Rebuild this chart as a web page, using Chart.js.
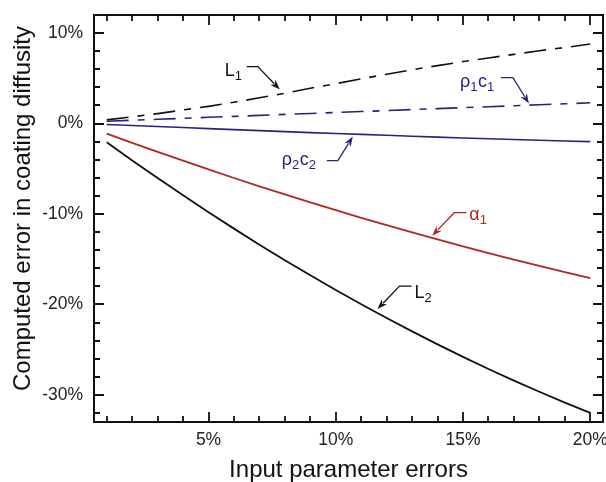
<!DOCTYPE html>
<html><head><meta charset="utf-8">
<script src="https://cdn.jsdelivr.net/npm/chart.js@4.4.0/dist/chart.umd.min.js"></script>
<style>html,body{margin:0;padding:0;background:#fff}</style>
</head><body>
<canvas id="c" width="606" height="482" style="width:606px;height:482px;display:block"></canvas>
<script>
// Input parameter error (%)
const errors = [1,2,3,4,5,6,7,8,9,10,11,12,13,14,15,16,17,18,19,20];
// Computed error in coating diffusity (%)
const L1     = [0.4,0.75,1.1,1.5,1.9,2.35,2.85,3.35,3.9,4.4,4.95,5.45,5.95,6.4,6.85,7.25,7.65,8.05,8.4,8.8];
const rho1c1 = [0.26,0.36,0.47,0.58,0.69,0.79,0.90,1.01,1.11,1.22,1.33,1.43,1.54,1.65,1.76,1.86,1.97,2.08,2.18,2.29];
const rho2c2 = [-0.1,-0.22,-0.33,-0.44,-0.56,-0.67,-0.78,-0.89,-1.0,-1.1,-1.2,-1.3,-1.4,-1.5,-1.6,-1.69,-1.77,-1.85,-1.93,-2.0];
const alpha1 = [-1.11,-2.13,-3.13,-4.11,-5.07,-6.02,-6.94,-7.84,-8.72,-9.58,-10.42,-11.24,-12.04,-12.82,-13.58,-14.33,-15.05,-15.75,-16.43,-17.1];
const L2     = [-2.07,-4.08,-6.03,-7.94,-9.81,-11.62,-13.39,-15.11,-16.78,-18.4,-19.98,-21.5,-22.98,-24.42,-25.8,-27.14,-28.42,-29.66,-30.86,-32.0];
const xTickValues = [5,10,15,20];
const yTickValues = [-30,-20,-10,0,10];
const xTitle = 'Input parameter errors';
const yTitle = 'Computed error in coating diffusity';

const NAVY = '#27247c', RED = '#b3261e', BLACK = '#111';
const pts = arr => errors.map((x,i)=>({x, y: arr[i]}));

// annotation: arrow tip in data coords, other parts as pixel offsets from the tip
const annotations = [
  {tip:[7.80,3.76],  color:BLACK, text:[['L',0],['1',1]],           tx:-55, ty:-14, lead:[[-33,-23],[-22,-23]]},
  {tip:[17.59,2.21], color:NAVY,  text:[['ρ',0],['1',1],['c',0],['1',1]], tx:-69, ty:-17, lead:[[-28,-26],[-16,-26]]},
  {tip:[10.67,-1.44],color:NAVY,  text:[['ρ',0],['2',1],['c',0],['2',1]], tx:-71, ty:28, lead:[[-26,24],[-15,24]]},
  {tip:[13.79,-12.40],color:RED,  text:[['α',0],['1',1]],           tx:37, ty:-16, lead:[[34,-23],[22,-23]]},
  {tip:[11.64,-20.51],color:BLACK,text:[['L',0],['2',1]],           tx:37, ty:-11, lead:[[34,-23],[22,-23]]}
];

const FONT = '"Liberation Sans", Arial, Helvetica, sans-serif';

const framePlugin = {
  id:'frame',
  afterDatasetsDraw(chart){
    const {ctx, chartArea:a, scales:{x, y}} = chart;
    ctx.save();
    ctx.strokeStyle = '#111'; ctx.lineWidth = 2;
    ctx.strokeRect(a.left, a.top, a.right-a.left, a.bottom-a.top);
    ctx.lineWidth = 1.8;
    ctx.beginPath();
    for (let v = 1; v <= 20; v++) {
      const len = v % 5 === 0 ? 10 : 6;
      const px = Math.round(x.getPixelForValue(v));
      ctx.moveTo(px, a.bottom); ctx.lineTo(px, a.bottom - len);
      ctx.moveTo(px, a.top); ctx.lineTo(px, a.top + len);
    }
    for (let v = -32; v <= 10; v += 2) {
      const len = v % 10 === 0 ? 10 : 6;
      const py = Math.round(y.getPixelForValue(v));
      ctx.moveTo(a.left, py); ctx.lineTo(a.left + len, py);
      ctx.moveTo(a.right, py); ctx.lineTo(a.right - len, py);
    }
    ctx.stroke();

    // y axis title
    ctx.save();
    ctx.fillStyle = '#111';
    ctx.font = '24px ' + FONT;
    ctx.textAlign = 'center'; ctx.textBaseline = 'middle';
    ctx.translate(23, (a.top + a.bottom) / 2 - 10);
    ctx.rotate(-Math.PI / 2);
    ctx.fillText(yTitle, 0, 0);
    ctx.restore();

    // annotations
    for (const an of annotations) {
      const tx = x.getPixelForValue(an.tip[0]), ty = y.getPixelForValue(an.tip[1]);
      ctx.strokeStyle = an.color; ctx.fillStyle = an.color; ctx.lineWidth = 1.3;
      const p0 = [tx+an.lead[0][0], ty+an.lead[0][1]], p1 = [tx+an.lead[1][0], ty+an.lead[1][1]];
      const ang = Math.atan2(ty-p1[1], tx-p1[0]);
      const hl = 10, hw = 3.6;
      const bx = tx - hl*Math.cos(ang), by = ty - hl*Math.sin(ang);
      ctx.beginPath();
      ctx.moveTo(p0[0], p0[1]); ctx.lineTo(p1[0], p1[1]); ctx.lineTo(bx+2*Math.cos(ang), by+2*Math.sin(ang));
      ctx.stroke();
      ctx.beginPath();
      ctx.moveTo(tx, ty);
      ctx.lineTo(bx - hw*Math.sin(ang), by + hw*Math.cos(ang));
      ctx.lineTo(bx + 3*Math.cos(ang), by + 3*Math.sin(ang));
      ctx.lineTo(bx + hw*Math.sin(ang), by - hw*Math.cos(ang));
      ctx.closePath(); ctx.fill();
      let cx = tx + an.tx; const base = ty + an.ty;
      ctx.textBaseline = 'alphabetic'; ctx.textAlign = 'left';
      for (const [t, sub] of an.text) {
        ctx.font = (sub ? '13px ' : '18px ') + FONT;
        ctx.fillText(t, cx, base + (sub ? 4 : 0));
        cx += ctx.measureText(t).width + (sub ? 0.5 : 0);
      }
    }
    ctx.restore();
  }
};

const ds = (data, color, width, dash) => ({
  data: pts(data), borderColor: color, backgroundColor: color, borderWidth: width,
  borderDash: dash || [], pointRadius: 0, tension: 0, fill: false
});
const noPad = s => { s.paddingLeft = 0; s.paddingRight = 0; s.paddingTop = 0; s.paddingBottom = 0; };

new Chart(document.getElementById('c'), {
  type: 'line',
  data: { datasets: [
    ds(L1, BLACK, 1.6, [22,9,7,9]),
    ds(rho1c1, NAVY, 1.6, [22,9,7,9]),
    ds(rho2c2, NAVY, 1.6),
    ds(alpha1, RED, 1.8),
    ds(L2, BLACK, 1.8)
  ]},
  options: {
    responsive: false, devicePixelRatio: 1, animation: false,
    layout: { padding: { top: 15, right: 3, left: 0, bottom: 0 } },
    plugins: { legend: { display: false }, tooltip: { enabled: false } },
    scales: {
      x: {
        type: 'linear', min: 0.5, max: 20.5,
        afterBuildTicks: s => { s.ticks = xTickValues.map(v => ({value: v})); },
        afterFit: s => { s.height = 60; noPad(s); },
        grid: { display: false, drawTicks: false },
        border: { display: false },
        ticks: { callback: v => v + '%', color: '#222', padding: 8, maxRotation: 0, autoSkip: false,
                 font: { size: 17.5, family: FONT } },
        title: { display: true, text: xTitle, color: '#111',
                 font: { size: 24, family: FONT, lineHeight: 1 }, padding: { top: 0, bottom: 0 } }
      },
      y: {
        type: 'linear', min: -33, max: 12,
        afterBuildTicks: s => { s.ticks = yTickValues.map(v => ({value: v})); },
        afterFit: s => { s.width = 94; noPad(s); },
        grid: { display: false, drawTicks: false },
        border: { display: false },
        ticks: { callback: v => v + '%', color: '#222', padding: 11, autoSkip: false,
                 font: { size: 17.5, family: FONT } },
        title: { display: false }
      }
    }
  },
  plugins: [framePlugin]
});
</script>
</body></html>
